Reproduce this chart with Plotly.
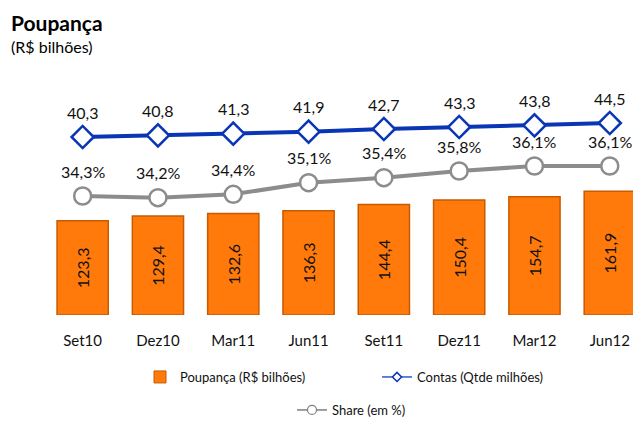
import plotly.graph_objects as go

categories = ["Set10", "Dez10", "Mar11", "Jun11", "Set11", "Dez11", "Mar12", "Jun12"]
poupanca = [123.3, 129.4, 132.6, 136.3, 144.4, 150.4, 154.7, 161.9]
contas = [40.3, 40.8, 41.3, 41.9, 42.7, 43.3, 43.8, 44.5]
share = [34.3, 34.2, 34.4, 35.1, 35.4, 35.8, 36.1, 36.1]

def br(v, dec=1, suffix=""):
    return f"{v:.{dec}f}".replace(".", ",") + suffix

FONT = "Lato"
ORANGE = "#FF7A0A"
ORANGE_EDGE = "#C85A00"
BLUE = "#0A35B4"
GRAY = "#8C8C8C"

# page body has an 8px margin; figure sized to fill the rest of the window
OFF = 8
FW, FH = 641 - OFF, 424 - OFF
L, T, W, H = 37, 92, 590, 215

def px(x):
    return (x - OFF - L) / W
def py(y):
    return (T + H - (y - OFF)) / H

fig = go.Figure()

fig.add_trace(go.Bar(
    x=categories, y=poupanca, yaxis="y",
    marker=dict(color=ORANGE, line=dict(color=ORANGE_EDGE, width=1.5)),
    text=[br(v) for v in poupanca], textposition="inside", textangle=-90,
    insidetextanchor="middle", constraintext="none",
    textfont=dict(family=FONT, size=16, color="#111111"),
    name="Poupança (R$ bilhões)", showlegend=False, hoverinfo="skip",
))

fig.add_trace(go.Scatter(
    x=categories, y=share, yaxis="y3", mode="lines+markers",
    line=dict(color=GRAY, width=4),
    marker=dict(symbol="circle", size=17, color="white", line=dict(color=GRAY, width=2.5)),
    showlegend=False, hoverinfo="skip",
))

fig.add_trace(go.Scatter(
    x=categories, y=contas, yaxis="y2", mode="lines+markers",
    line=dict(color=BLUE, width=4),
    marker=dict(symbol="diamond", size=17, color="white", line=dict(color=BLUE, width=2.5)),
    showlegend=False, hoverinfo="skip",
))

# legend-only entries
fig.add_trace(go.Bar(
    x=[None], y=[None], name="Poupança (R$ bilhões)", legend="legend",
    marker=dict(color=ORANGE, line=dict(color=ORANGE_EDGE, width=1)),
))
fig.add_trace(go.Scatter(
    x=[None], y=[None], mode="lines+markers", name="Contas (Qtde milhões)", legend="legend",
    line=dict(color="#2E5BD0", width=1.5),
    marker=dict(symbol="diamond", size=7, color="white", line=dict(color=BLUE, width=1.5)),
))
fig.add_trace(go.Scatter(
    x=[None], y=[None], mode="lines+markers", name="Share (em %)", legend="legend2",
    line=dict(color="#7F7F7F", width=1.5),
    marker=dict(symbol="circle", size=9, color="white", line=dict(color="#7F7F7F", width=1.2)),
))

annotations = []
for c, v in zip(categories, contas):
    annotations.append(dict(x=c, y=v, xref="x", yref="y2", text=br(v), showarrow=False,
                            yshift=25, font=dict(family=FONT, size=16, color="#111111")))
for c, v in zip(categories, share):
    annotations.append(dict(x=c, y=v, xref="x", yref="y3", text=br(v, suffix="%"), showarrow=False,
                            yshift=25, font=dict(family=FONT, size=16, color="#111111")))

annotations.append(dict(x=px(9), y=py(22), xref="paper", yref="paper", xanchor="left", yanchor="middle",
                        text="<b>Poupança</b>", showarrow=False,
                        font=dict(family=FONT, size=21, color="#000000")))
annotations.append(dict(x=px(9), y=py(46), xref="paper", yref="paper", xanchor="left", yanchor="middle",
                        text="(R$ bilhões)", showarrow=False,
                        font=dict(family=FONT, size=16, color="#000000")))

fig.update_layout(
    width=FW, height=FH,
    margin=dict(l=L, r=FW - L - W, t=T, b=FH - T - H, autoexpand=False),
    paper_bgcolor="white", plot_bgcolor="white",
    font=dict(family=FONT, size=15, color="#111111"),
    bargap=0.32,
    xaxis=dict(type="category", range=[-0.5, 7.335], showgrid=False, showline=False,
               ticks="", tickfont=dict(family=FONT, size=15, color="#111111"),
               ticklabelstandoff=15, automargin=False),
    yaxis=dict(range=[0, 281], visible=False),
    yaxis2=dict(range=[-13.1, 51.4], overlaying="y", visible=False),
    yaxis3=dict(range=[27.16, 40.06], overlaying="y", visible=False),
    legend=dict(orientation="h", x=px(140), xanchor="left", y=py(377), yanchor="middle",
                entrywidth=192, font=dict(family=FONT, size=13, color="#111111"),
                bgcolor="rgba(0,0,0,0)"),
    legend2=dict(orientation="h", x=px(292), xanchor="left", y=py(410), yanchor="middle",
                 font=dict(family=FONT, size=13, color="#111111"), bgcolor="rgba(0,0,0,0)"),
    annotations=annotations,
    showlegend=True,
)

fig.write_html("out.html")
